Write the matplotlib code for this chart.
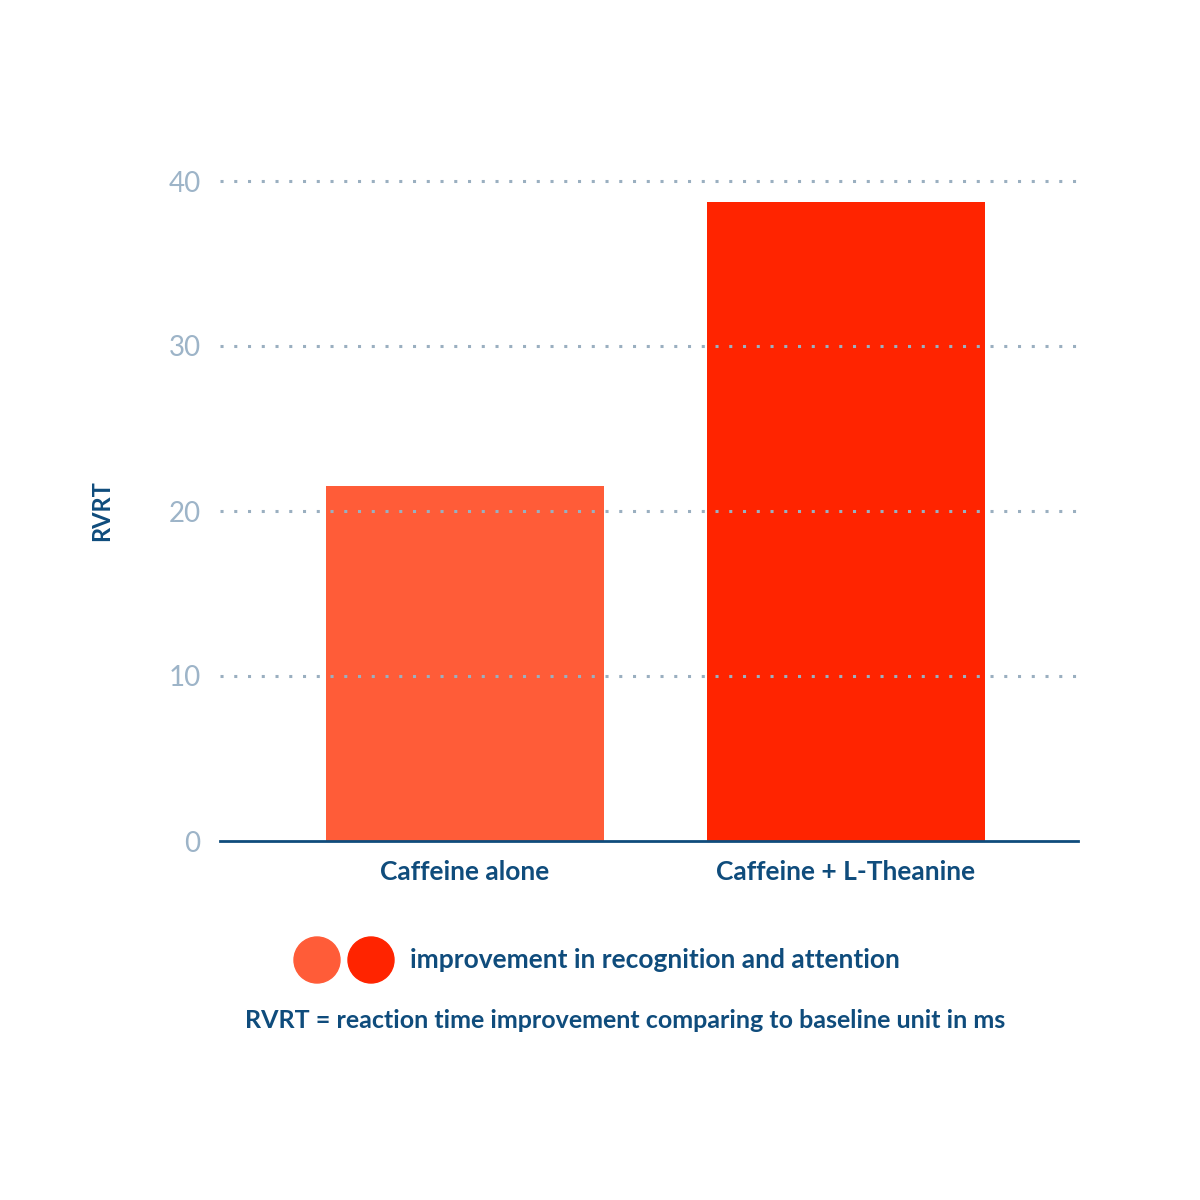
import matplotlib
matplotlib.use("Agg")
import matplotlib.pyplot as plt
from matplotlib.patches import Ellipse

categories = ["Caffeine alone", "Caffeine + L-Theanine"]
values = [21.5, 38.7]
colors = ["#FF5C38", "#FF2400"]
yticks = [0, 10, 20, 30, 40]

plt.rcParams['font.family'] = ['Lato', 'DejaVu Sans']
dark = "#0F4C7C"
light = "#9DB4C8"

fig = plt.figure(figsize=(12, 12), dpi=100)
ax = fig.add_axes([220/1200, 359/1200, 858/1200, 660/1200])
x = list(range(len(categories)))
ax.bar(x, values, width=0.73, color=colors, zorder=1)
ax.set_xlim(-0.643, 1.609)
ax.set_ylim(0, 40)
ax.set_yticks(yticks)
ax.set_yticklabels([str(t) for t in yticks], fontsize=20, color=light)
for t in yticks[1:]:
    ax.axhline(t, color="#9AAFC0", linestyle=(0, (1, 3.5)), linewidth=2.2, zorder=2, clip_on=False)
ax.tick_params(axis='y', length=0, pad=14)
ax.tick_params(axis='x', length=0, pad=14)
ax.set_xticks(x)
ax.set_xticklabels(categories, fontsize=19, color=dark, fontweight='bold')
for s in ["top", "right", "left"]:
    ax.spines[s].set_visible(False)
ax.spines["bottom"].set_color(dark)
ax.spines["bottom"].set_linewidth(2)
ax.set_ylabel("RVRT", fontsize=17, color=dark, fontweight='bold', labelpad=40)

for cx, c in zip([317, 371], colors):
    fig.patches.append(Ellipse((cx/1200, 1-960/1200), 46/1200, 46/1200,
                               color=c, transform=fig.transFigure))
fig.text(410/1200, 1-960/1200, "improvement in recognition and attention",
         fontsize=19, color=dark, fontweight='bold', va='center', ha='left')
fig.text(625/1200, 1-1020/1200, "RVRT = reaction time improvement comparing to baseline unit in ms",
         fontsize=18, color=dark, fontweight='bold', va='center', ha='center')
fig.savefig("out.png", dpi=100)
